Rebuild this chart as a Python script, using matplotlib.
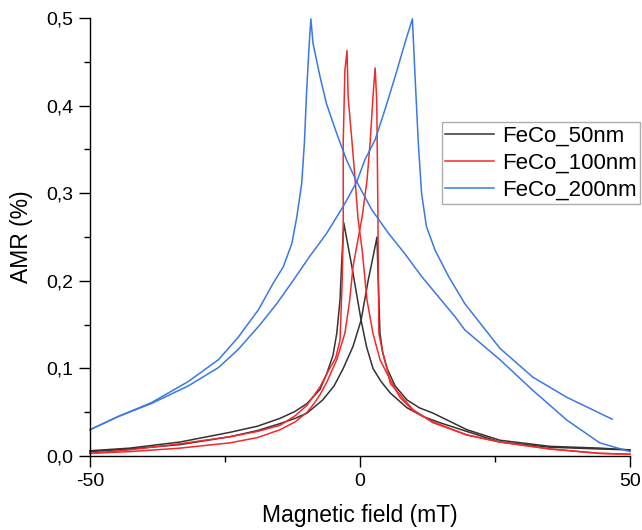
import matplotlib
matplotlib.use("Agg")
import matplotlib.pyplot as plt
from matplotlib.ticker import MultipleLocator, FuncFormatter

plt.rcParams['font.family'] = ['Liberation Sans', 'DejaVu Sans']

# ---- data ----
labels = ["FeCo_50nm", "FeCo_100nm", "FeCo_200nm"]

# FeCo_50nm: branch A (sweep +50 -> -50), branch B (sweep -50 -> +50)
k_a_x = [50, 44.4, 35.2, 25.9, 19.8, 14.8, 11.7, 8.7, 5.6, 3.9, 2.4, 1.2, 0.2, -1.5, -3.0, -3.4, -3.7, -4.3, -5.0, -6.1, -7.4, -9.8, -12.0, -14.8, -19.0, -24.1, -33.3, -42.6, -50]
k_a_y = [0.007, 0.008, 0.010, 0.016, 0.028, 0.038, 0.045, 0.055, 0.072, 0.085, 0.100, 0.125, 0.155, 0.216, 0.266, 0.220, 0.178, 0.140, 0.115, 0.095, 0.076, 0.060, 0.051, 0.043, 0.034, 0.027, 0.016, 0.009, 0.006]
k_b_x = [-50, -42.6, -33.3, -24.1, -19.0, -14.8, -12.0, -9.8, -6.9, -4.8, -3.1, -1.3, 0.2, 1.5, 2.5, 3.15, 3.3, 3.7, 4.2, 5.0, 6.5, 8.7, 11.0, 13.5, 19.8, 25.9, 35.2, 44.4, 50]
k_b_y = [0.005, 0.008, 0.013, 0.022, 0.029, 0.037, 0.043, 0.049, 0.064, 0.080, 0.100, 0.125, 0.155, 0.200, 0.230, 0.250, 0.216, 0.140, 0.118, 0.100, 0.080, 0.064, 0.055, 0.049, 0.030, 0.018, 0.011, 0.009, 0.007]

# FeCo_100nm
r_a_x = [50, 44.4, 35.2, 25.9, 19.8, 13.5, 9.8, 7.4, 5.6, 3.7, 2.4, 1.3, 0.4, -0.4, -0.9, -1.5, -2.2, -2.4, -2.8, -3.1, -3.1, -3.3, -3.7, -4.5, -5.6, -7.4, -9.8, -12.0, -14.8, -19.0, -24.1, -33.3, -42.6, -50]
r_a_y = [0.002, 0.003, 0.008, 0.016, 0.024, 0.039, 0.052, 0.067, 0.087, 0.110, 0.140, 0.178, 0.235, 0.273, 0.315, 0.360, 0.410, 0.463, 0.440, 0.360, 0.260, 0.200, 0.132, 0.112, 0.100, 0.079, 0.058, 0.046, 0.035, 0.028, 0.022, 0.014, 0.007, 0.003]
r_b_x = [-50, -42.6, -33.3, -24.1, -19.0, -14.8, -12.0, -9.8, -8.5, -7.4, -6.1, -4.3, -2.8, -1.9, -1.3, 0.4, 1.3, 1.9, 2.4, 2.8, 3.1, 3.3, 3.4, 3.5, 4.1, 5.0, 5.6, 7.4, 9.8, 13.5, 19.8, 25.9, 35.2, 44.4, 50]
r_b_y = [0.003, 0.005, 0.009, 0.015, 0.021, 0.030, 0.039, 0.050, 0.060, 0.070, 0.085, 0.110, 0.140, 0.178, 0.216, 0.273, 0.315, 0.360, 0.410, 0.443, 0.406, 0.290, 0.200, 0.140, 0.121, 0.100, 0.083, 0.070, 0.053, 0.038, 0.024, 0.016, 0.008, 0.003, 0.002]

# FeCo_200nm
b_a_x = [50, 44.4, 38.3, 32.0, 25.9, 19.4, 17.6, 14.5, 11.4, 8.3, 5.3, 2.2, -0.6, -2.5, -4.3, -6.2, -7.4, -8.7, -9.1, -9.4, -9.9, -10.3, -10.8, -11.7, -12.6, -14.2, -16.1, -18.8, -22.5, -26.2, -31.8, -38.6, -44.8, -50]
b_a_y = [0.005, 0.015, 0.041, 0.075, 0.110, 0.144, 0.159, 0.182, 0.205, 0.231, 0.254, 0.281, 0.313, 0.338, 0.368, 0.402, 0.433, 0.471, 0.499, 0.471, 0.414, 0.357, 0.311, 0.273, 0.243, 0.216, 0.197, 0.167, 0.136, 0.110, 0.085, 0.061, 0.045, 0.030]
b_b_x = [-50, -44.8, -38.6, -31.8, -26.2, -22.5, -18.5, -15.4, -12.3, -9.3, -6.2, -3.1, -0.6, 0.9, 2.8, 4.6, 6.5, 8.3, 9.7, 10.2, 10.8, 11.4, 12.3, 13.9, 16.4, 19.4, 25.9, 32.0, 38.3, 46.7]
b_b_y = [0.030, 0.045, 0.060, 0.080, 0.101, 0.122, 0.150, 0.174, 0.201, 0.228, 0.254, 0.285, 0.313, 0.338, 0.361, 0.395, 0.433, 0.471, 0.499, 0.433, 0.357, 0.300, 0.262, 0.235, 0.205, 0.174, 0.123, 0.090, 0.067, 0.042]

colors = ["#333333", "#f22a2a", "#3a78e6"]

fig = plt.figure(figsize=(6.42, 5.30), dpi=100)
ax = fig.add_axes([90/642, 1-456/530, 540/642, 438/530])

series = [
    ((k_a_x, k_a_y), (k_b_x, k_b_y)),
    ((r_a_x, r_a_y), (r_b_x, r_b_y)),
    ((b_a_x, b_a_y), (b_b_x, b_b_y)),
]
for (ba, bb), c, lab in zip(series, colors, labels):
    ax.plot(ba[0], ba[1], color=c, lw=1.1, label=lab, clip_on=False)
    ax.plot(bb[0], bb[1], color=c, lw=1.1, clip_on=False)

ax.set_xlim(-50, 50)
ax.set_ylim(0, 0.5)
ax.spines['top'].set_visible(False)
ax.spines['right'].set_visible(False)
for s in ('left', 'bottom'):
    ax.spines[s].set_linewidth(1.0)
    ax.spines[s].set_color('black')

ax.xaxis.set_major_locator(MultipleLocator(50))
ax.xaxis.set_minor_locator(MultipleLocator(25))
ax.yaxis.set_major_locator(MultipleLocator(0.1))
ax.yaxis.set_minor_locator(MultipleLocator(0.05))
ax.yaxis.set_major_formatter(FuncFormatter(lambda v, p: f"{v:.1f}".replace('.', ',')))
ax.xaxis.set_major_formatter(FuncFormatter(lambda v, p: f"{v:.0f}"))
ax.tick_params(which='major', direction='out', length=8, width=1.0, labelsize=14, pad=4)
ax.tick_params(which='minor', direction='out', length=4, width=1.0)

ax.set_xlabel("Magnetic field (mT)", fontsize=16.5, labelpad=10)
ax.set_ylabel("AMR (%)", fontsize=16.5)
ax.yaxis.set_label_coords((33 - 90) / 540, 0.5)

leg = fig.legend(loc='upper right', bbox_to_anchor=(640/642, 1-122/530), fontsize=16,
                 frameon=True, fancybox=False, handlelength=2.2, labelspacing=0.28,
                 borderpad=0.15, handletextpad=0.35, borderaxespad=0)
leg.get_frame().set_edgecolor('#999999')
leg.get_frame().set_linewidth(1.0)

fig.savefig("out.png", dpi=100)
